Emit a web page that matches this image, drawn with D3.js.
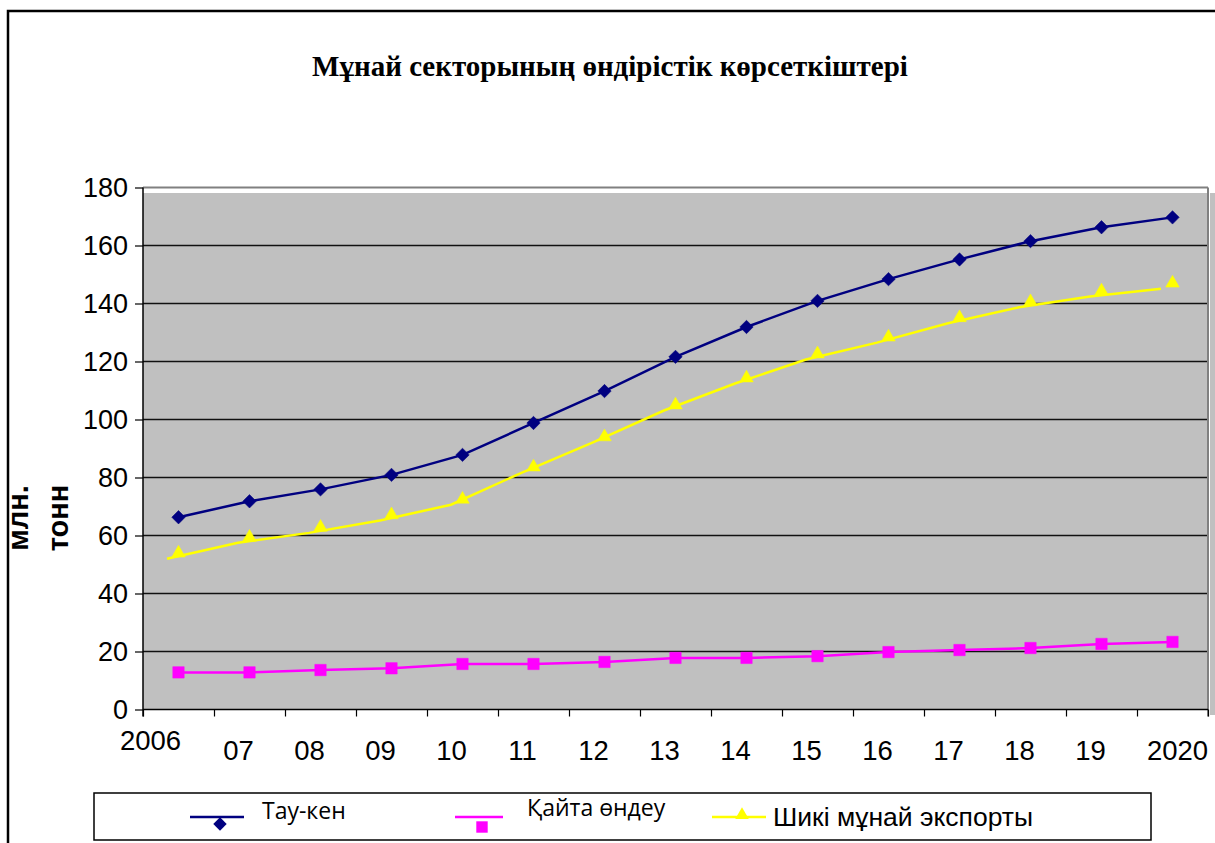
<!DOCTYPE html>
<html>
<head>
<meta charset="utf-8">
<script src="https://cdn.jsdelivr.net/npm/d3@7"></script>
<style>
  body { margin: 0; background: #fff; }
  svg { display: block; }
</style>
</head>
<body>
<script>
// chart data
var years = ["2006", "2007", "2008", "2009", "2010", "2011", "2012", "2013", "2014", "2015", "2016", "2017", "2018", "2019", "2020"];
var yearLabels = ["2006", "07", "08", "09", "10", "11", "12", "13", "14", "15", "16", "17", "18", "19", "2020"];
var tauKen = [66.3, 71.8, 75.9, 80.9, 87.8, 98.8, 109.8, 121.6, 131.9, 140.9, 148.4, 155.2, 161.5, 166.3, 169.7];
var qaitaOndeu = [12.8, 12.8, 13.6, 14.2, 15.7, 15.7, 16.4, 17.8, 17.8, 18.4, 19.8, 20.5, 21.2, 22.6, 23.3];
var shikiExport = [53.9, 59.4, 62.8, 67.1, 72.5, 83.6, 94, 105, 114.3, 122.6, 128.4, 135.1, 140.6, 144.3, 147];
var yTicks = [0, 20, 40, 60, 80, 100, 120, 140, 160, 180];

var title = "Мұнай секторының өндірістік көрсеткіштері";
var yTitle = ["млн.", "тонн"];

// diamond = square turned 45deg
var series = [
  { name: "Тау-кен", values: tauKen, color: "#000080", marker: d3.symbolSquare, rot: 45, msize: 90, font: "'Open Sans', sans-serif", size: 23 },
  { name: "Қайта өндеу", values: qaitaOndeu, color: "#FF00FF", marker: d3.symbolSquare, rot: 0, msize: 130, font: "'Open Sans', sans-serif", size: 23 },
  { name: "Шикі мұнай экспорты", values: shikiExport, color: "#FFFF00", marker: d3.symbolTriangle, rot: 0, msize: 80, font: "'Liberation Sans', Arial, sans-serif", size: 26.5 }
];

var W = 1215, H = 843;
var plot = { left: 143, right: 1208, top: 187.5, bottom: 709.5 };

var svg = d3.select("body").append("svg").attr("width", W).attr("height", H);

// outer chart frame (runs off the page right and bottom)
svg.append("rect")
  .attr("x", 8).attr("y", 11)
  .attr("width", 1300).attr("height", 900)
  .attr("fill", "#fff")
  .attr("stroke", "#000").attr("stroke-width", 2.5);

var x = d3.scaleBand().domain(years).range([plot.left, plot.right]).padding(0);
var xEdge = d3.scaleLinear().domain([0, years.length]).range([plot.left, plot.right]);
var y = d3.scaleLinear().domain([0, 180]).range([plot.bottom, plot.top]);

function cx(i) { return x(years[i]) + x.bandwidth() / 2; }

// plot area shadow on the right
svg.append("rect")
  .attr("x", plot.right + 2).attr("y", plot.top + 5.5)
  .attr("width", 20).attr("height", plot.bottom - plot.top)
  .attr("fill", "#c0c0c0");

// plot area
svg.append("rect")
  .attr("x", plot.left).attr("y", plot.top + 5.5)
  .attr("width", plot.right - plot.left).attr("height", plot.bottom - plot.top - 5.5)
  .attr("fill", "#c0c0c0");

// gridlines
svg.append("g")
  .selectAll("line")
  .data(yTicks.filter(function (d) { return d > 0 && d < 180; }))
  .enter()
  .append("line")
  .attr("x1", plot.left).attr("x2", plot.right)
  .attr("y1", function (d) { return y(d); })
  .attr("y2", function (d) { return y(d); })
  .attr("stroke", "#111").attr("stroke-width", 1.5);

// top + right border of plot
svg.append("line")
  .attr("x1", plot.left).attr("x2", plot.right)
  .attr("y1", plot.top).attr("y2", plot.top)
  .attr("stroke", "#808080").attr("stroke-width", 2);
svg.append("line")
  .attr("x1", plot.right).attr("x2", plot.right)
  .attr("y1", plot.top).attr("y2", plot.bottom + 7)
  .attr("stroke", "#808080").attr("stroke-width", 2);

// y axis
var yAxis = svg.append("g")
  .attr("transform", "translate(" + plot.left + ",0)")
  .call(d3.axisLeft(y).tickValues(yTicks).tickSize(8).tickPadding(7));
yAxis.select(".domain").attr("stroke", "#000").attr("stroke-width", 1.5)
  .attr("d", "M0," + plot.top + "V" + (plot.bottom + 7));
yAxis.selectAll(".tick line").attr("stroke", "#000").attr("stroke-width", 1.2);
yAxis.selectAll("text")
  .attr("fill", "#000")
  .style("font-family", "'Liberation Sans', Arial, sans-serif")
  .style("font-size", "27px");

// x axis (ticks at category edges)
var xAxis = svg.append("g")
  .attr("transform", "translate(0," + plot.bottom + ")")
  .call(d3.axisBottom(xEdge).tickValues(d3.range(years.length + 1)).tickSize(7).tickFormat(""));
xAxis.select(".domain").attr("stroke", "#000").attr("stroke-width", 1.5)
  .attr("d", "M" + plot.left + ",0H" + plot.right);
xAxis.selectAll(".tick line").attr("stroke", "#000").attr("stroke-width", 1.2);

// x labels
svg.append("g")
  .selectAll("text")
  .data(yearLabels)
  .enter()
  .append("text")
  .attr("x", function (d, i) {
    var off = i === 0 ? -28 : (i === yearLabels.length - 1 ? 5 : -11);
    return cx(i) + off;
  })
  .attr("y", function (d, i) { return i === 0 ? 750 : 760; })
  .attr("text-anchor", "middle")
  .style("font-family", "'Liberation Sans', Arial, sans-serif")
  .style("font-size", "27.5px")
  .text(function (d) { return d; });

// lines and markers
var line = d3.line()
  .x(function (d, i) { return cx(i); })
  .y(function (d) { return y(d); });

series.forEach(function (s, k) {
  var g = svg.append("g");
  // yellow line sits a bit off its markers in the original
  var lineG = g.append("g");
  if (k === 2) lineG.attr("transform", "translate(-11.5,5.5)");
  lineG.append("path")
    .attr("d", line(s.values))
    .attr("fill", "none")
    .attr("stroke", s.color)
    .attr("stroke-width", 2.5);

  g.selectAll(".mk")
    .data(s.values)
    .enter()
    .append("path")
    .attr("class", "mk")
    .attr("d", d3.symbol().type(s.marker).size(s.msize))
    .attr("transform", function (d, i) {
      return "translate(" + cx(i) + "," + y(d) + ") rotate(" + s.rot + ")";
    })
    .attr("fill", s.color)
    .attr("stroke", s.color)
    .attr("stroke-width", 0.5);
});

// title
svg.append("text")
  .attr("x", 610).attr("y", 76)
  .attr("text-anchor", "middle")
  .style("font-family", "'Liberation Serif', 'Times New Roman', serif")
  .style("font-weight", "bold")
  .style("font-size", "29px")
  .text(title);

// y axis title
svg.append("g")
  .selectAll("text")
  .data(yTitle)
  .enter()
  .append("text")
  .attr("transform", function (d, i) {
    return "translate(" + (28 + i * 40) + ",518) rotate(-90)";
  })
  .attr("text-anchor", "middle")
  .style("font-family", "'Liberation Sans', Arial, sans-serif")
  .style("font-weight", "bold")
  .style("font-size", "29px")
  .text(function (d) { return d; });

// legend
var legend = svg.append("g");
legend.append("rect")
  .attr("x", 94).attr("y", 793)
  .attr("width", 1057).attr("height", 47)
  .attr("fill", "#fff")
  .attr("stroke", "#000").attr("stroke-width", 1.5);

var legendPos = [
  { x1: 190, x2: 244, ly: 817, my: 824, tx: 262, ty: 819 },
  { x1: 455, x2: 503, ly: 817, my: 827, tx: 527, ty: 816 },
  { x1: 712, x2: 766, ly: 817, my: 815, tx: 773, ty: 826 }
];

series.forEach(function (s, k) {
  var p = legendPos[k];
  legend.append("line")
    .attr("x1", p.x1).attr("x2", p.x2)
    .attr("y1", p.ly).attr("y2", p.ly)
    .attr("stroke", s.color).attr("stroke-width", 2.5);
  legend.append("path")
    .attr("d", d3.symbol().type(s.marker).size(s.msize)())
    .attr("transform", "translate(" + ((p.x1 + p.x2) / 2 + 3) + "," + p.my + ") rotate(" + s.rot + ")")
    .attr("fill", s.color);
  legend.append("text")
    .attr("x", p.tx).attr("y", p.ty)
    .style("font-family", s.font)
    .style("font-size", s.size + "px")
    .text(s.name);
});
</script>
</body>
</html>
